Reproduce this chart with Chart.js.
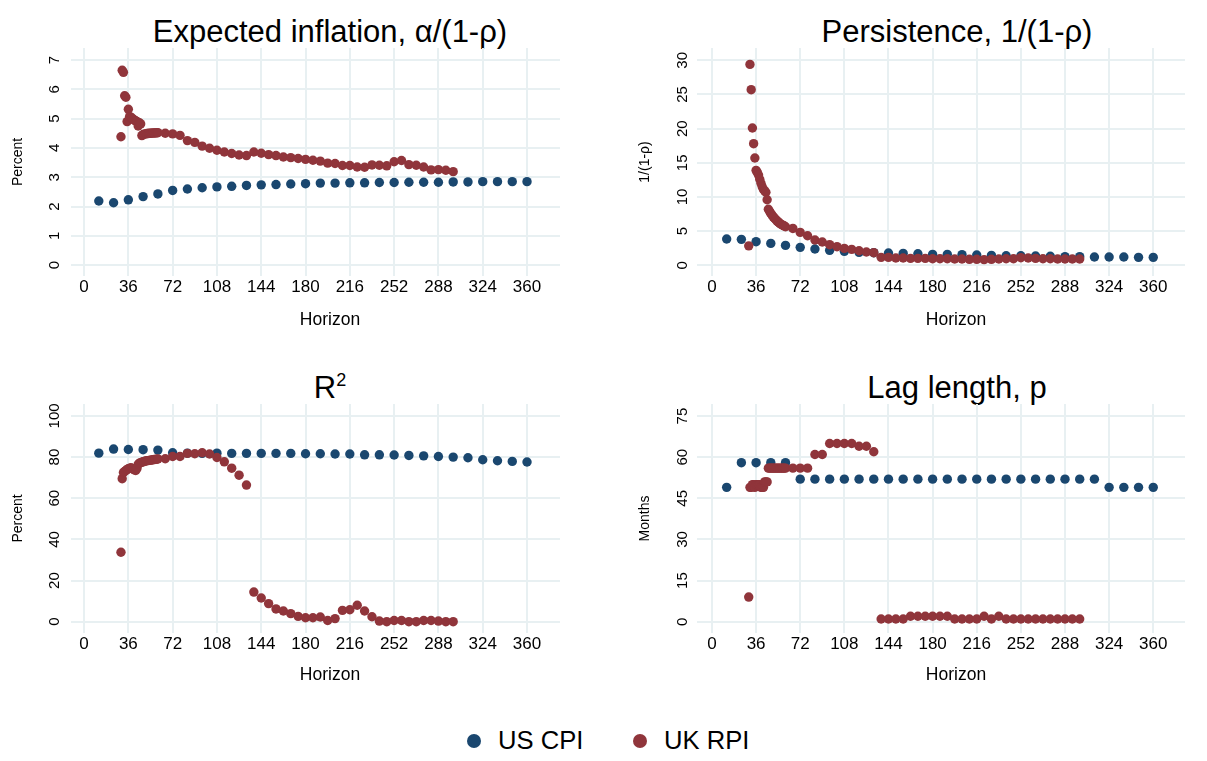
<!DOCTYPE html>
<html>
<head>
<meta charset="utf-8">
<title>Inflation persistence by horizon</title>
<script src="https://cdn.jsdelivr.net/npm/chart.js@4.4.1/dist/chart.umd.min.js"></script>
<style>
	body { margin:0; background:#fff; width:1207px; height:761px; position:relative; overflow:hidden; font-family:'Liberation Sans', Arial, sans-serif; }
	canvas { position:absolute; }
	.ttl { position:absolute; width:600px; text-align:center; font-size:31px; line-height:1; color:#000; white-space:nowrap; }
	.ttl .sup { position:relative; top:-12px; font-size:18px; }
	.xt { position:absolute; width:200px; text-align:center; font-size:17.5px; line-height:1; color:#000; }
	.leg { position:absolute; top:728px; font-size:25.6px; line-height:1; color:#000; white-space:nowrap; }
	.dot { position:absolute; top:734px; width:14px; height:14px; border-radius:50%; }
</style>
</head>
<body>

<div class="ttl" style="left:30px;top:16px;">Expected inflation, α/(1-ρ)</div>
<div class="ttl" style="left:657px;top:16px;">Persistence, 1/(1-ρ)</div>
<div class="ttl" style="left:30px;top:372px;">R<span class="sup">2</span></div>
<div class="ttl" style="left:657px;top:372px;">Lag length, p</div>

<canvas id="c1" width="600" height="300" style="left:0;top:40px;"></canvas>
<canvas id="c2" width="580" height="300" style="left:627px;top:40px;"></canvas>
<canvas id="c3" width="600" height="300" style="left:0;top:396px;"></canvas>
<canvas id="c4" width="580" height="300" style="left:627px;top:396px;"></canvas>

<div class="xt" style="left:230px;top:311px;">Horizon</div>
<div class="xt" style="left:856px;top:311px;">Horizon</div>
<div class="xt" style="left:230px;top:666px;">Horizon</div>
<div class="xt" style="left:856px;top:666px;">Horizon</div>

<div class="dot" style="left:467px;background:#1a476f;"></div>
<div class="leg" style="left:498px;">US CPI</div>
<div class="dot" style="left:633px;background:#90353b;"></div>
<div class="leg" style="left:664px;">UK RPI</div>

<script>
// horizons (months)
var usHorizon = [12,24,36,48,60,72,84,96,108,120,132,144,156,168,180,192,204,216,228,240,252,264,276,288,300,312,324,336,348,360];
var ukHorizon = [30,31,32,33,34,35,36,37,38,39,40,41,42,43,44,45,46,47,48,49,50,51,52,53,54,55,56,57,58,59,60,
	66,72,78,84,90,96,102,108,114,120,126,132,138,144,150,156,162,168,174,180,186,192,198,204,210,216,222,228,234,240,246,252,258,264,270,276,282,288,294,300];

var horizonTicks = [0,36,72,108,144,180,216,252,288,324,360];

// expected inflation
var usExpInfl = [2.19,2.13,2.23,2.34,2.43,2.55,2.60,2.64,2.67,2.69,2.72,2.74,2.75,2.77,2.78,2.80,2.80,2.81,2.81,2.82,2.82,2.83,2.83,2.83,2.84,2.84,2.85,2.85,2.85,2.85];
var ukExpInfl = [4.38,6.65,6.58,5.78,5.73,4.90,5.32,5.07,5.05,5.01,4.98,4.95,4.92,4.90,4.75,4.86,4.82,4.42,4.46,4.47,4.48,4.49,4.49,4.50,4.50,4.50,4.51,4.51,4.51,4.52,4.52,
	4.50,4.48,4.43,4.25,4.19,4.06,3.99,3.92,3.86,3.81,3.76,3.74,3.86,3.82,3.77,3.74,3.69,3.67,3.64,3.61,3.58,3.55,3.48,3.47,3.40,3.40,3.35,3.34,3.42,3.41,3.39,3.53,3.57,3.43,3.41,3.35,3.25,3.26,3.24,3.19];
var expInflTicks = [0,1,2,3,4,5,6,7];

// persistence
var usPersist = [3.85,3.80,3.46,3.21,2.92,2.63,2.39,2.19,2.05,1.90,1.85,1.80,1.75,1.70,1.61,1.61,1.56,1.51,1.46,1.41,1.41,1.36,1.32,1.27,1.27,1.22,1.22,1.22,1.17,1.17];
var ukPersist = [2.85,29.4,25.7,20.1,17.8,15.7,13.9,13.6,13.2,12.6,12.0,11.5,11.1,10.9,10.7,9.6,8.2,7.9,7.6,7.35,7.1,6.9,6.7,6.5,6.35,6.2,6.05,5.95,5.85,5.75,5.65,
	5.4,4.82,4.33,3.70,3.41,3.02,2.73,2.48,2.34,2.14,1.95,1.85,1.17,1.17,1.07,1.07,1.02,1.02,1.02,0.97,0.97,0.97,0.93,0.93,0.88,0.88,0.83,0.88,0.93,0.97,0.97,1.12,1.07,1.02,0.97,0.97,0.93,0.93,0.93,0.93];
var persistTicks = [0,5,10,15,20,25,30];

// R squared
var usR2 = [81.9,83.9,83.7,83.6,83.4,82.1,81.9,81.8,81.9,81.8,81.8,81.8,81.8,81.8,81.6,81.6,81.5,81.5,81.1,81.1,81.0,80.8,80.6,80.3,80.0,79.7,78.7,78.2,77.9,77.6];
var ukR2 = [33.75,69.5,72.5,73.0,73.5,74.0,74.3,74.5,74.8,74.5,74.2,73.8,73.5,74.5,76.5,77.0,77.3,77.5,77.7,77.9,78.1,78.2,78.3,78.4,78.5,78.6,78.7,78.8,78.9,79.0,79.1,
	79.2,80.3,80.3,81.8,81.6,82.1,81.5,79.8,77.7,74.6,71.2,66.4,14.4,11.5,8.8,6.2,5.2,3.9,2.6,1.9,1.9,2.3,0.6,1.5,5.5,5.8,8.0,5.2,2.4,0.3,0.0,0.6,0.6,0.0,0.0,0.6,0.6,0.3,0.0,0.0];
var r2Ticks = [0,20,40,60,80,100];

// lag length
var usLags = [49,58,58,58,58,52,52,52,52,52,52,52,52,52,52,52,52,52,52,52,52,52,52,52,52,52,49,49,49,49];
var ukLags = [9,49,49,50,50,49,50,50,50,50,49,49,49,51,51,51,56,56,56,56,56,56,56,56,56,56,56,56,56,56,56,
	56,56,56,61,61,65,65,65,65,64,64,62,1,1,1,1,2,2,2,2,2,2,1,1,1,1,2,1,2,1,1,1,1,1,1,1,1,1,1,1];
var lagTicks = [0,15,30,45,60,75];

(function(){
	'use strict';

	var BLUE = '#1a476f';
	var RED = '#90353b';
	var GRID = '#e8f0f2';

	Chart.defaults.font.family = "'Liberation Sans', Arial, sans-serif";
	Chart.defaults.color = '#000';

	function points(xs, ys){
		var out = [];
		for (var i = 0; i < xs.length; i++) {
			out.push({x: xs[i], y: ys[i]});
		}
		return out;
	}

	function fixedTicks(list){
		return function(scale){
			scale.ticks = list.map(function(v){ return {value: v}; });
		};
	}

	// p: canvas id, data, ticks, ranges and the pixel layout of the panel
	function panel(p){
		new Chart(document.getElementById(p.id), {
			type: 'scatter',
			data: {
				datasets: [{
					label: 'US CPI',
					data: points(usHorizon, p.us),
					backgroundColor: BLUE,
					borderWidth: 0,
					pointRadius: 4.7,
					order: 1
				}, {
					label: 'UK RPI',
					data: points(ukHorizon, p.uk),
					backgroundColor: RED,
					borderWidth: 0,
					pointRadius: 4.7,
					order: 0
				}]
			},
			options: {
				responsive: false,
				animation: false,
				events: [],
				layout: { padding: {top: 8, right: p.padRight, bottom: 0, left: 0} },
				plugins: { legend: {display: false}, tooltip: {enabled: false} },
				scales: {
					x: {
						type: 'linear',
						min: p.xMin, max: p.xMax,
						afterBuildTicks: fixedTicks(horizonTicks),
						afterFit: function(s){ s.height = p.xHeight; s.paddingLeft = 0; s.paddingRight = 0; },
						grid: { color: GRID, lineWidth: 2, drawTicks: false },
						border: { display: false },
						ticks: { autoSkip: false, maxRotation: 0, padding: 1, font: {size: 17} }
					},
					y: {
						type: 'linear',
						min: p.yMin, max: p.yMax,
						afterBuildTicks: fixedTicks(p.ticks),
						afterFit: function(s){ s.width = p.yWidth; s.paddingTop = 0; s.paddingBottom = 0; },
						grid: { color: GRID, lineWidth: 2, drawTicks: false },
						border: { display: false },
						ticks: { autoSkip: false, minRotation: 90, maxRotation: 90, crossAlign: 'center', padding: p.yTickPad, font: {size: 15} },
						title: { display: true, text: p.yTitle, font: {size: 14}, padding: {top: 9.6, bottom: 0} }
					}
				}
			}
		});
	}

	panel({ id: 'c1', us: usExpInfl, uk: ukExpInfl, ticks: expInflTicks, yTitle: 'Percent',
		xMin: -10.6, xMax: 386.8, yMin: -0.37, yMax: 7.41,
		yWidth: 71, padRight: 40, xHeight: 64, yTickPad: 11.8 });

	panel({ id: 'c2', us: usPersist, uk: ukPersist, ticks: persistTicks, yTitle: '1/(1-ρ)',
		xMin: -12.2, xMax: 385.9, yMin: -1.56, yMax: 31.8,
		yWidth: 70, padRight: 22, xHeight: 64, yTickPad: 5.7 });

	panel({ id: 'c3', us: usR2, uk: ukR2, ticks: r2Ticks, yTitle: 'Percent',
		xMin: -10.6, xMax: 386.8, yMin: -5.5, yMax: 105.8,
		yWidth: 71, padRight: 40, xHeight: 63, yTickPad: 3.5 });

	panel({ id: 'c4', us: usLags, uk: ukLags, ticks: lagTicks, yTitle: 'Months',
		xMin: -12.2, xMax: 385.9, yMin: -4.1, yMax: 79.4,
		yWidth: 70, padRight: 22, xHeight: 63, yTickPad: 5.7 });

})();
</script>
</body>
</html>
